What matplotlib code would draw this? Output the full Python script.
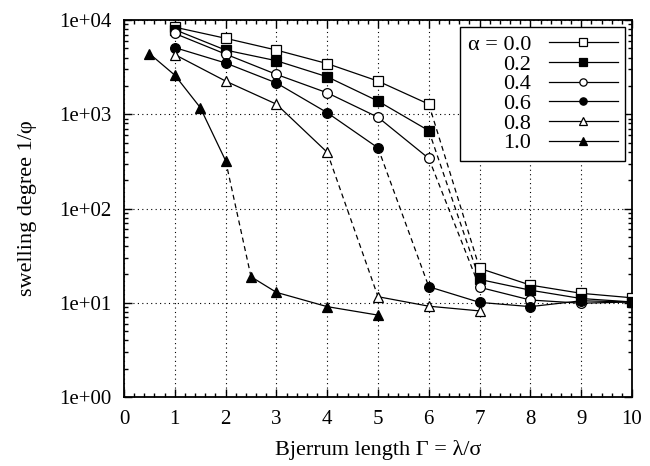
import matplotlib
matplotlib.use("Agg")
from matplotlib import pyplot as plt
from matplotlib.ticker import MultipleLocator, LogLocator, FuncFormatter, NullFormatter

plt.rcParams['font.family'] = ['Liberation Serif', 'DejaVu Serif']

# Bjerrum length values
gamma_main = [1, 2, 3, 4, 5, 6, 7, 8, 9, 10]
gamma_a08 = [1, 2, 3, 4, 5, 6, 7]
gamma_a10 = [0.5, 1, 1.5, 2, 2.5, 3, 4, 5]

# swelling degree 1/phi for each charge fraction alpha
swell_a00 = [8400, 6400, 4800, 3450, 2250, 1280, 23.2, 15.4, 12.6, 11.3]
swell_a02 = [7900, 4800, 3700, 2500, 1380, 670, 17.7, 13.6, 11.1, 10.2]
swell_a04 = [7200, 4350, 2650, 1690, 930, 340, 14.6, 10.7, 9.9, 10.2]
swell_a06 = [5100, 3500, 2150, 1040, 440, 14.8, 10.1, 9.1, 10.5, 10.2]
swell_a08 = [4300, 2250, 1280, 395, 11.6, 9.2, 8.2]
swell_a10 = [4400, 2600, 1180, 322, 18.9, 12.9, 9.1, 7.4]

labels = ['α = 0.0', '0.2', '0.4', '0.6', '0.8', '1.0']
# index of the point after which the collapse (dashed) segment starts
breaks = [5, 5, 5, 4, 3, 3]

series = [
    (gamma_main, swell_a00, 's', 'white'),
    (gamma_main, swell_a02, 's', 'black'),
    (gamma_main, swell_a04, 'o', 'white'),
    (gamma_main, swell_a06, 'o', 'black'),
    (gamma_a08, swell_a08, '^', 'white'),
    (gamma_a10, swell_a10, '^', 'black'),
]

fig = plt.figure(figsize=(6.5, 4.66), dpi=100)
ax = fig.add_axes([0.1908, 0.148, 0.7815, 0.809])

for (x, y, m, fc), lab, k in zip(series, labels, breaks):
    kw = dict(color='black', lw=0.9, marker=m, ms=7, mfc=fc, mec='black', mew=0.9)
    ax.plot(x[:k + 1], y[:k + 1], '-', label=lab, zorder=3, **kw)
    ax.plot(x[k:k + 2], y[k:k + 2], '--', color='black', lw=0.9, dashes=(4, 3), zorder=2)
    ax.plot(x[k + 1:], y[k + 1:], '-', zorder=3, **kw)

ax.set_yscale('log')
ax.set_xlim(0, 10)
ax.set_ylim(1, 1e4)

ax.xaxis.set_major_locator(MultipleLocator(1))
ax.xaxis.set_minor_locator(MultipleLocator(0.2))
ax.yaxis.set_major_locator(LogLocator(base=10, numticks=10))
ax.yaxis.set_minor_locator(LogLocator(base=10, subs=range(2, 10), numticks=20))
ax.yaxis.set_major_formatter(FuncFormatter(lambda v, p: f'{v:.0e}'))
ax.yaxis.set_minor_formatter(NullFormatter())

ax.tick_params(which='both', direction='in', top=True, right=True, labelsize=15, width=1)
ax.tick_params(which='major', length=6, pad=9)
ax.tick_params(which='minor', length=3)
ax.grid(True, which='major', linestyle=(0, (1, 3)), color='black', lw=0.8)

for s in ax.spines.values():
    s.set_linewidth(1.3)

ax.set_xlabel('Bjerrum length Γ = λ/σ', fontsize=16, labelpad=8)
ax.set_ylabel('swelling degree 1/φ', fontsize=16, labelpad=16)

leg = ax.legend(loc='upper right', markerfirst=False, fontsize=16, handlelength=3.1,
                numpoints=1, markerscale=0.75, labelspacing=-0.04, borderpad=0.35,
                handletextpad=0.8, borderaxespad=0.3, fancybox=False, framealpha=1)
leg.get_frame().set_edgecolor('black')
leg.get_frame().set_linewidth(1.0)

fig.savefig('out.png', dpi=100)
plt.close(fig)
